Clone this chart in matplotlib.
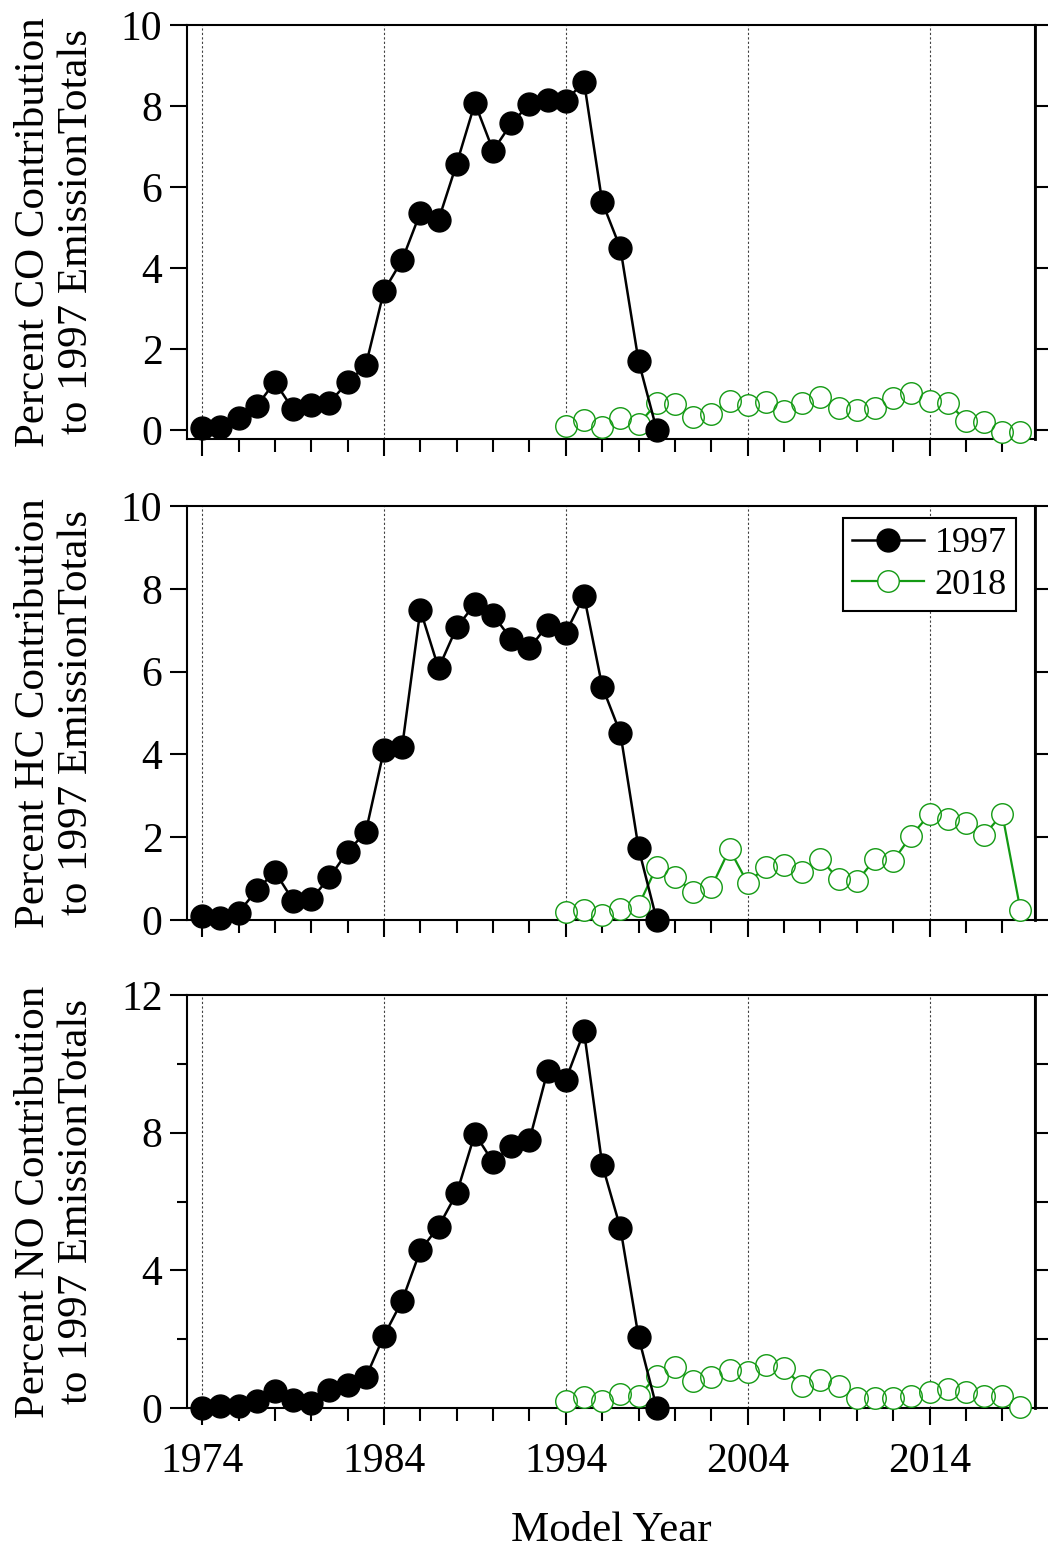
import numpy as np
import matplotlib
matplotlib.use("Agg")
import matplotlib.pyplot as plt
from matplotlib.lines import Line2D
from matplotlib.ticker import MultipleLocator, FixedLocator

plt.rcParams['font.family'] = ['Liberation Serif', 'DejaVu Serif']

# model years for each survey
years_1997 = list(range(1974, 2000))
years_2018 = list(range(1994, 2020))

# percent contribution to 1997 emission totals
co_1997 = [0.04, 0.08, 0.29, 0.59, 1.19, 0.51, 0.62, 0.68, 1.18, 1.60, 3.44, 4.20, 5.37,
           5.19, 6.58, 8.07, 6.90, 7.57, 8.05, 8.15, 8.13, 8.60, 5.63, 4.49, 1.70, 0.0]
co_2018 = [0.10, 0.26, 0.08, 0.30, 0.15, 0.66, 0.64, 0.33, 0.39, 0.72, 0.62, 0.70, 0.48,
           0.67, 0.82, 0.54, 0.49, 0.55, 0.80, 0.91, 0.72, 0.68, 0.23, 0.19, -0.04, -0.04]

hc_1997 = [0.10, 0.04, 0.18, 0.72, 1.17, 0.47, 0.50, 1.03, 1.65, 2.13, 4.11, 4.19, 7.49,
           6.08, 7.07, 7.63, 7.37, 6.78, 6.56, 7.13, 6.94, 7.83, 5.64, 4.51, 1.73, 0.0]
hc_2018 = [0.20, 0.24, 0.12, 0.26, 0.35, 1.29, 1.05, 0.68, 0.79, 1.71, 0.89, 1.29, 1.33,
           1.17, 1.47, 0.99, 0.93, 1.47, 1.43, 2.04, 2.55, 2.44, 2.35, 2.05, 2.56, 0.24]

no_1997 = [0.0, 0.05, 0.05, 0.19, 0.48, 0.24, 0.15, 0.53, 0.68, 0.89, 2.10, 3.12, 4.58,
           5.27, 6.24, 7.97, 7.14, 7.60, 7.79, 9.80, 9.54, 10.94, 7.07, 5.23, 2.06, 0.0]
no_2018 = [0.21, 0.31, 0.19, 0.41, 0.34, 0.94, 1.18, 0.77, 0.90, 1.09, 1.05, 1.26, 1.16,
           0.63, 0.82, 0.63, 0.29, 0.29, 0.29, 0.34, 0.46, 0.55, 0.46, 0.36, 0.36, 0.03]

species = ['CO', 'HC', 'NO']
green = '#139a13'

W, H = 1048, 1549
fig = plt.figure(figsize=(W / 100, H / 100), dpi=100)

# panel boxes in pixels: (top, bottom)
boxes = [(25, 439), (506, 920), (995, 1408)]
left, right = 186.7, 1035
ylims = [(-0.22, 10), (0, 10), (0, 12)]

series = [(co_1997, co_2018), (hc_1997, hc_2018), (no_1997, no_2018)]

axes = []
for i, ((top, bot), (a, b)) in enumerate(zip(boxes, series)):
    ax = fig.add_axes([left / W, 1 - bot / H, (right - left) / W, (bot - top) / H])
    axes.append(ax)

    # 2018 survey: line, white fill to hide line in circles, then outlines
    ax.plot(years_2018, b, color=green, lw=1.6, zorder=3)
    ax.plot(years_2018, b, 'o', ms=15.5, mfc='white', mec='none', zorder=4, clip_on=False)
    ax.plot(years_2018, b, 'o', ms=15.5, mfc='none', mec=green, mew=1.0, zorder=5,
            clip_on=False)
    # 1997 survey
    ax.plot(years_1997, a, color='black', lw=1.8, marker='o', ms=16.5,
            mfc='black', mec='black', zorder=6, clip_on=False)

    ax.set_xlim(1973.15, 2019.8)
    ax.set_ylim(*ylims[i])
    ax.xaxis.set_major_locator(FixedLocator([1974, 1984, 1994, 2004, 2014]))
    ax.xaxis.set_minor_locator(MultipleLocator(2))
    ax.grid(axis='x', which='major', linestyle=(0, (2, 2)), lw=0.8, color='0.25')

    if i < 2:
        ax.set_yticks(np.arange(0, 11, 2))
    else:
        ax.set_yticks([0, 4, 8, 12])
        ax.yaxis.set_minor_locator(FixedLocator([2, 6, 10]))

    ax.tick_params(axis='y', which='major', direction='out', length=12.5, width=1.5,
                   labelsize=30, pad=5)
    ax.tick_params(axis='y', which='minor', direction='out', length=7, width=1.5)
    ax.tick_params(axis='x', which='major', direction='out', length=12.5, width=1.5,
                   labelsize=30, pad=12)
    ax.tick_params(axis='x', which='minor', direction='out', length=9.5, width=1.5)
    if i < 2:
        ax.tick_params(axis='x', labelbottom=False)

    for s in ax.spines.values():
        s.set_linewidth(1.5)

    # right side ticks
    tw = ax.twinx()
    tw.set_ylim(*ylims[i])
    tw.set_yticks(np.arange(0, ylims[i][1] + 0.1, 2))
    tw.tick_params(axis='y', direction='out', length=9.5, width=1.5, labelright=False)
    for s in tw.spines.values():
        s.set_visible(False)
    tw.spines['right'].set_visible(True)
    tw.spines['right'].set_linewidth(2)

    ycen = 1 - (top + bot) / 2 / H
    fig.text(55 / W, ycen, 'Percent %s Contribution\nto 1997 EmissionTotals' % species[i],
             rotation=90, ha='center', va='center', multialignment='center',
             fontsize=31, linespacing=1.15)

axes[2].set_xlabel('Model Year', fontsize=31, labelpad=22)

handles = [
    Line2D([], [], color='black', lw=1.8, marker='o', ms=16.5, mfc='black', mec='black'),
    Line2D([], [], color=green, lw=1.6, marker='o', ms=15.5, mfc='white', mec=green, mew=1.0),
]
leg = axes[1].legend(handles, ['1997', '2018'], loc='upper right',
                     bbox_to_anchor=(1016 / W, 1 - 518 / H), bbox_transform=fig.transFigure,
                     borderaxespad=0, fontsize=26, frameon=True, fancybox=False,
                     framealpha=1, edgecolor='black', handlelength=2.0, handletextpad=0.3,
                     borderpad=0.25, labelspacing=0.22)
leg.get_frame().set_linewidth(1.5)
leg.set_zorder(10)

fig.savefig('out.png', dpi=100)
